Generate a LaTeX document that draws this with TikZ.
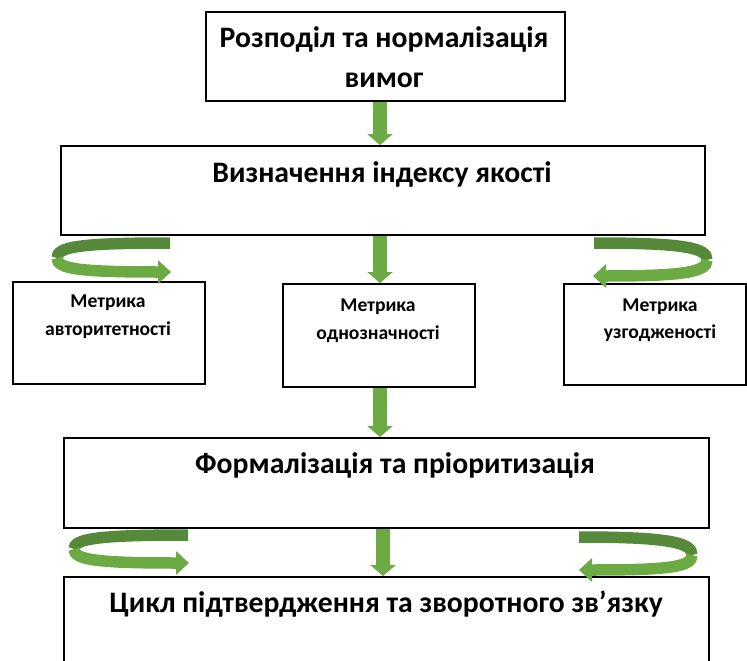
\documentclass[tikz,border=0pt]{standalone}
\usepackage{fontspec}
\setmainfont{Carlito}
\usetikzlibrary{arrows.meta}
\definecolor{darkg}{RGB}{86,138,58}
\definecolor{lightg}{RGB}{108,170,68}
\begin{document}
\begin{tikzpicture}[x=1pt,y=-1pt,
  box/.style={draw=black, line width=2pt, fill=white, anchor=north west, inner sep=0pt},
  big/.style={font=\fontsize{29.7}{37}\selectfont\bfseries, align=center, inner sep=0pt, anchor=base},
  small/.style={font=\fontsize{19.6}{27}\selectfont\bfseries, align=center, inner sep=0pt, anchor=base},
  down/.style={draw=lightg, line width=14pt, -{Triangle[width=25pt,length=11pt]}},
  ribd/.style={draw=darkg, line width=11.5pt},
  ribl/.style={draw=lightg, line width=11.5pt},
  ribtip/.style={-{Triangle[width=23pt,length=13pt]}}
]
\useasboundingbox (0,0) rectangle (747,661);
% boxes
\node[box, minimum width=359pt, minimum height=89pt] (b1) at (205,11) {};
\node[box, minimum width=644pt, minimum height=89pt] (b2) at (60,145) {};
\node[box, minimum width=192pt, minimum height=102pt] (b3) at (12,281) {};
\node[box, minimum width=192pt, minimum height=103pt] (b4) at (282,283) {};
\node[box, minimum width=182pt, minimum height=101pt] (b5) at (563,283) {};
\node[box, minimum width=645pt, minimum height=90pt] (b6) at (63,437) {};
\node[box, minimum width=645pt, minimum height=100pt] (b7) at (63,576) {};
% texts
\node[big] (t1a) at (384,48) {Розподіл та нормалізація};
\node[big] (t1b) at (384,88) {вимог};
\node[big] (t2) at (382,182) {Визначення індексу якості};
\node[small] (t3a) at (108,307) {Метрика};
\node[small] (t3b) at (108,335) {авторитетності};
\node[small] (t4a) at (378,311) {Метрика};
\node[small] (t4b) at (378,339) {однозначності};
\node[small] (t5a) at (660,311) {Метрика};
\node[small] (t5b) at (660,338) {узгодженості};
\node[big] (t6) at (395,473) {Формалізація та пріоритизація};
\node[big] (t7) at (386,612) {Цикл підтвердження та зворотного зв’язку};
% straight arrows
\coordinate (cx) at (380,0);
\coordinate (cy) at (383,0);
\draw[down] (b1.south -| cx) -- (b2.north -| cx);
\draw[down] (b2.south -| cx) -- (b4.north -| cx);
\draw[down] (b4.south -| cx) -- (b6.north -| cx);
\draw[down] (b6.south -| cy) -- (b7.north -| cy);
% curved arrows: top left
\coordinate (c1s) at (170,243);
\coordinate (c1m) at (57,258);
\coordinate (c1t) at (171,272);
\draw[ribd] (c1s) .. controls (78,243) and (57,247) .. (c1m);
\draw[ribl, ribtip] (c1m) .. controls (57,269) and (80,272) .. (c1t);
% top right
\coordinate (c2s) at (594,243);
\coordinate (c2m) at (707,260);
\coordinate (c2t) at (593,276);
\draw[ribd] (c2s) .. controls (686,243) and (707,248) .. (c2m);
\draw[ribl, ribtip] (c2m) .. controls (707,272) and (684,276) .. (c2t);
% bottom left
\coordinate (c3s) at (188,535);
\coordinate (c3m) at (74,549);
\coordinate (c3t) at (189,563);
\draw[ribd] (c3s) .. controls (96,535) and (74,539) .. (c3m);
\draw[ribl, ribtip] (c3m) .. controls (74,560) and (98,563) .. (c3t);
% bottom right
\coordinate (c4s) at (579,537);
\coordinate (c4m) at (692,555);
\coordinate (c4t) at (579,570);
\draw[ribd] (c4s) .. controls (671,537) and (692,543) .. (c4m);
\draw[ribl, ribtip] (c4m) .. controls (692,567) and (669,570) .. (c4t);
\end{tikzpicture}
\end{document}
